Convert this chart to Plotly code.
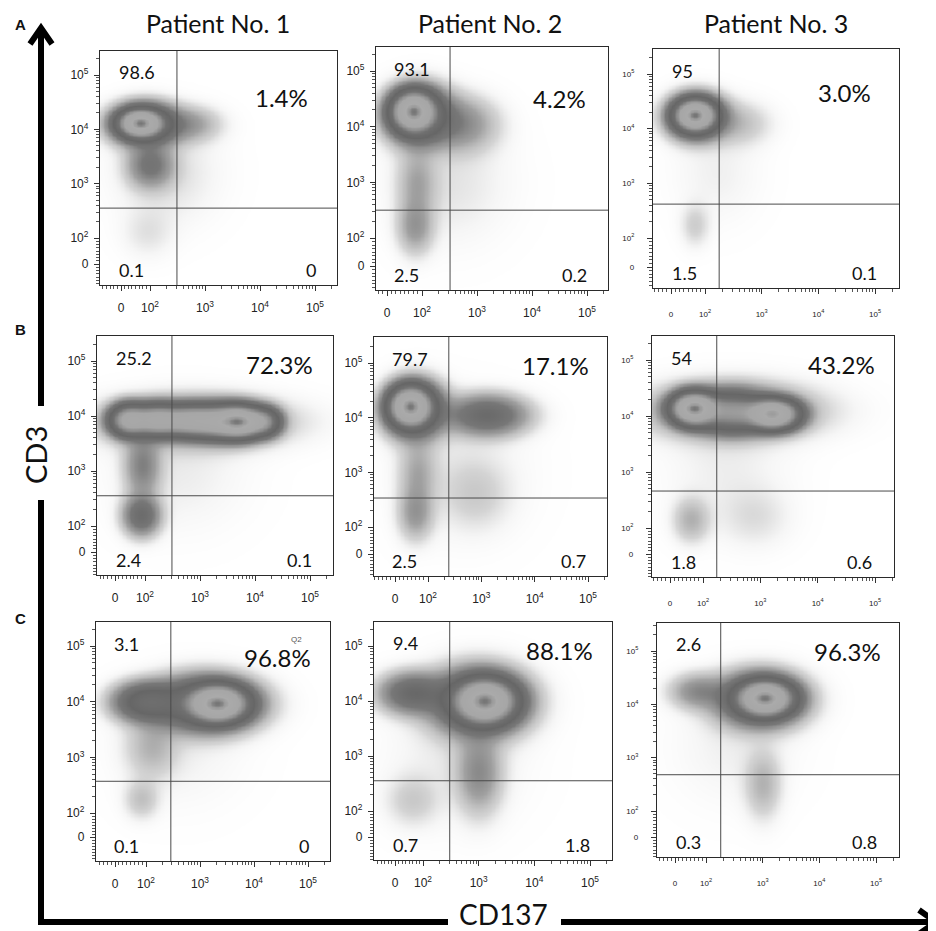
import numpy as np
import plotly.graph_objects as go

W, H = 936, 931

# ---------------- data ----------------
patients = ["Patient No. 1", "Patient No. 2", "Patient No. 3"]
row_labels = ["A", "B", "C"]
x_title = "CD137"
y_title = "CD3"
tick_decades = [2, 3, 4, 5]
tick_text = ["0", "10<sup>2</sup>", "10<sup>3</sup>", "10<sup>4</sup>", "10<sup>5</sup>"]

# quadrant percentages, panels ordered A1, A2, A3, B1, B2, B3, C1, C2, C3
q_upper_left = [98.6, 93.1, 95, 25.2, 79.7, 54, 3.1, 9.4, 2.6]
q_upper_right = [1.4, 4.2, 3.0, 72.3, 17.1, 43.2, 96.8, 88.1, 96.3]
q_lower_left = [0.1, 2.5, 1.5, 2.4, 2.5, 1.8, 0.1, 0.7, 0.3]
q_lower_right = [0, 0.2, 0.1, 0.1, 0.7, 0.6, 0, 1.8, 0.8]

# quadrant gates (log decades)
gate_cd137 = [2.49, 2.51, 2.25, 2.49, 2.39, 2.24, 2.46, 2.48, 2.26]
gate_cd3 = [2.55, 2.50, 2.62, 2.55, 2.53, 2.66, 2.57, 2.55, 2.68]

# cell populations:
# (CD137 centre, CD3 centre, CD137 spread, CD3 spread, relative density), log decades
pops_A1 = [(1.82, 4.12, 0.22, 0.14, 1.0), (1.90, 4.10, 0.35, 0.22, 0.25),
           (2.70, 4.10, 0.35, 0.20, 0.04), (2.00, 3.35, 0.25, 0.25, 0.08),
           (2.30, 3.20, 0.60, 0.60, 0.010), (1.95, 2.10, 0.30, 0.30, 0.008)]
pops_A2 = [(1.84, 4.28, 0.22, 0.20, 1.0), (1.95, 4.20, 0.35, 0.30, 0.20),
           (2.70, 4.05, 0.40, 0.30, 0.05), (1.90, 3.00, 0.22, 0.40, 0.03),
           (1.87, 2.20, 0.20, 0.30, 0.04), (2.50, 3.00, 0.70, 0.70, 0.008)]
pops_A3 = [(1.82, 4.25, 0.20, 0.16, 1.0), (1.85, 4.22, 0.30, 0.24, 0.20),
           (2.60, 4.10, 0.35, 0.25, 0.02), (1.82, 2.24, 0.16, 0.25, 0.014),
           (2.20, 3.20, 0.50, 0.60, 0.005)]
pops_B1 = [(1.70, 3.93, 0.20, 0.16, 0.80), (2.20, 3.93, 0.25, 0.16, 0.80),
           (2.80, 3.92, 0.30, 0.16, 0.80), (3.40, 3.90, 0.30, 0.17, 0.85),
           (3.75, 3.90, 0.22, 0.16, 1.0), (4.15, 3.90, 0.18, 0.15, 0.50),
           (2.90, 3.90, 1.00, 0.28, 0.08), (1.95, 3.10, 0.20, 0.35, 0.08),
           (1.93, 2.20, 0.20, 0.22, 0.15), (2.60, 3.00, 0.80, 0.70, 0.008)]
pops_B2 = [(1.66, 4.21, 0.22, 0.20, 1.0), (1.75, 4.15, 0.33, 0.30, 0.20),
           (3.10, 4.05, 0.45, 0.22, 0.12), (1.80, 3.00, 0.22, 0.40, 0.03),
           (1.76, 2.25, 0.20, 0.30, 0.04), (2.90, 2.60, 0.40, 0.40, 0.012),
           (2.60, 3.00, 0.80, 0.80, 0.006)]
pops_B3 = [(1.83, 4.14, 0.22, 0.16, 1.0), (3.22, 4.04, 0.25, 0.15, 0.90),
           (2.50, 4.08, 0.35, 0.20, 0.35), (2.50, 4.10, 0.90, 0.30, 0.06),
           (1.79, 2.15, 0.20, 0.25, 0.025), (2.90, 2.20, 0.40, 0.35, 0.008),
           (2.40, 3.10, 0.70, 0.70, 0.005)]
pops_C1 = [(3.33, 3.97, 0.30, 0.18, 1.0), (3.10, 3.97, 0.55, 0.28, 0.25),
           (2.00, 4.00, 0.35, 0.20, 0.20), (2.10, 3.20, 0.30, 0.35, 0.025),
           (1.91, 2.25, 0.20, 0.22, 0.02), (2.60, 3.20, 0.80, 0.70, 0.005)]
pops_C2 = [(3.11, 4.00, 0.30, 0.22, 1.0), (3.00, 4.00, 0.50, 0.35, 0.20),
           (1.80, 4.15, 0.35, 0.22, 0.12), (3.00, 2.70, 0.25, 0.45, 0.05),
           (1.80, 2.20, 0.30, 0.30, 0.015), (2.60, 3.00, 0.80, 0.80, 0.006)]
pops_C3 = [(3.04, 4.12, 0.27, 0.18, 1.0), (2.95, 4.10, 0.45, 0.30, 0.18),
           (1.85, 4.25, 0.30, 0.20, 0.05), (3.00, 2.50, 0.20, 0.40, 0.025),
           (2.50, 3.20, 0.70, 0.70, 0.005)]
populations = [pops_A1, pops_A2, pops_A3, pops_B1, pops_B2, pops_B3, pops_C1, pops_C2, pops_C3]

# ---------------- layout (pixels) ----------------
box_px = [(92, 329, 43, 277), (368, 600, 39, 282), (645, 891, 41, 280),
          (89, 325, 328, 567), (366, 599, 329, 568), (644, 886, 328, 569),
          (88, 322, 614, 853), (366, 604, 614, 852), (649, 891, 615, 849)]
xtick_px = [(113, 142, 307), (379, 414, 579), (663, 697, 867),
            (107, 137, 302), (387, 420, 580), (662, 695, 867),
            (107, 138, 300), (387, 415, 582), (667, 698, 868)]
ytick_px = [(256, 230, 67), (258, 230, 63), (259, 230, 66),
            (544, 518, 353), (546, 519, 355), (546, 520, 352),
            (829, 805, 638), (829, 803, 638), (829, 803, 643)]
ur_pos = [(0.886, 0.80), (0.914, 0.79), (0.894, 0.816),
          (0.924, 0.88), (0.930, 0.88), (0.930, 0.88),
          (0.927, 0.85), (0.929, 0.88), (0.934, 0.88)]

colorscale = [[0.0, "#ffffff"], [0.003, "#f6f6f6"], [0.01, "#d4d4d4"],
              [0.03, "#a0a0a0"], [0.06, "#777777"], [0.12, "#666666"],
              [0.22, "#707070"], [0.32, "#8e8e8e"], [0.45, "#a6a6a6"],
              [0.80, "#aaaaaa"], [0.92, "#999999"], [1.0, "#767676"]]

FONT = "Lato"
TICKFONT = "Liberation Sans"

fig = go.Figure()
shapes = []
annotations = []


def px_x(p):
    return p / W


def px_y(p):
    return 1 - p / H


def minor_vals(lo, hi, zero):
    vals = []
    for n in (2, 3, 4, 5):
        for k in range(2, 10):
            v = n + np.log10(k)
            if lo < v < hi:
                vals.append(float(v))
    step = (2 - zero) / 8
    v = 2 - step
    while v > lo:
        if abs(v - zero) > 1e-6:
            vals.append(float(v))
        v -= step
    return vals


for i in range(9):
    col = i % 3
    n = "" if i == 0 else str(i + 1)
    L, R, T, B = box_px[i]
    x0p, x2p, x5p = xtick_px[i]
    dx = (x5p - x2p) / 3
    xr = [2 + (L - x2p) / dx, 5 + (R - x5p) / dx]
    xzero = 2 + (x0p - x2p) / dx
    y0p, y2p, y5p = ytick_px[i]
    dy = (y2p - y5p) / 3
    yr = [2 - (B - y2p) / dy, 5 + (y5p - T) / dy]
    yzero = 2 - (y0p - y2p) / dy

    gx = np.linspace(xr[0], xr[1], 180)
    gy = np.linspace(yr[0], yr[1], 180)
    X, Y = np.meshgrid(gx, gy)
    Z = np.zeros_like(X)
    for cx, cy, sx, sy, w in populations[i]:
        Z += w * np.exp(-0.5 * (((X - cx) / sx) ** 2 + ((Y - cy) / sy) ** 2))
    Z = Z / Z.max()

    fig.add_trace(go.Heatmap(x=gx, y=gy, z=Z, colorscale=colorscale, zmin=0, zmax=1,
                             zsmooth="best", showscale=False, hoverinfo="skip",
                             xaxis="x" + n, yaxis="y" + n))

    small = col == 2
    tf = dict(family=TICKFONT, size=8 if small else 12, color="#222")
    common = dict(showline=True, mirror=True, linecolor="#2a2a2a", linewidth=1.3,
                  ticks="outside", ticklen=5, tickwidth=1, tickcolor="#333",
                  showgrid=False, zeroline=False, tickmode="array",
                  ticktext=tick_text, tickfont=tf, fixedrange=True)
    fig.layout["xaxis" + n] = dict(
        common, domain=[px_x(L), px_x(R)], range=xr, anchor="y" + n,
        tickvals=[xzero] + tick_decades, ticklabelstandoff=13 if small else 6,
        minor=dict(tickmode="array", tickvals=minor_vals(xr[0], xr[1], xzero),
                   ticklen=3, tickwidth=0.8, tickcolor="#555"))
    fig.layout["yaxis" + n] = dict(
        common, domain=[px_y(B), px_y(T)], range=yr, anchor="x" + n,
        tickvals=[yzero] + tick_decades, ticklabelstandoff=11 if small else 3,
        minor=dict(tickmode="array", tickvals=minor_vals(yr[0], yr[1], yzero),
                   ticklen=3, tickwidth=0.8, tickcolor="#555"))

    # quadrant gates
    shapes.append(dict(type="line", xref="x" + n, yref="y" + n + " domain",
                       x0=gate_cd137[i], x1=gate_cd137[i], y0=0, y1=1,
                       line=dict(color="#4a4a4a", width=1), layer="above"))
    shapes.append(dict(type="line", xref="x" + n + " domain", yref="y" + n,
                       x0=0, x1=1, y0=gate_cd3[i], y1=gate_cd3[i],
                       line=dict(color="#4a4a4a", width=1), layer="above"))

    xd = "x" + n + " domain"
    yd = "y" + n + " domain"
    qf = dict(family=FONT, size=18, color="#111")
    annotations += [
        dict(text=f"{q_upper_left[i]:g}", xref=xd, yref=yd, x=0.07, y=0.91,
             xanchor="left", yanchor="middle", showarrow=False, font=qf),
        dict(text=f"{q_upper_right[i]:.1f}%", xref=xd, yref=yd, x=ur_pos[i][0], y=ur_pos[i][1],
             xanchor="right", yanchor="middle", showarrow=False,
             font=dict(family=FONT, size=24, color="#111")),
        dict(text=f"{q_lower_left[i]:g}", xref=xd, yref=yd, x=0.07, y=0.062,
             xanchor="left", yanchor="middle", showarrow=False, font=qf),
        dict(text=f"{q_lower_right[i]:g}", xref=xd, yref=yd, x=0.918, y=0.062,
             xanchor="right", yanchor="middle", showarrow=False, font=qf),
    ]
    if i == 6:
        annotations.append(dict(text="Q2", xref=xd, yref=yd, x=0.89, y=0.955,
                                showarrow=False, font=dict(family=TICKFONT, size=8, color="#555")))

# column titles
for c, (name, cx) in enumerate(zip(patients, [210, 482, 768])):
    annotations.append(dict(text=name, xref="paper", yref="paper", x=px_x(cx), y=px_y(15),
                            xanchor="center", yanchor="middle", showarrow=False,
                            font=dict(family=FONT, size=25, color="#111")))
# row letters
for lab, py in zip(row_labels, [16, 321, 610]):
    annotations.append(dict(text=f"<b>{lab}</b>", xref="paper", yref="paper", x=px_x(12), y=px_y(py),
                            xanchor="center", yanchor="middle", showarrow=False,
                            font=dict(family=TICKFONT, size=15, color="#111")))
# axis titles on the big arrows
annotations.append(dict(text=y_title, xref="paper", yref="paper", x=px_x(27), y=px_y(447),
                        textangle=-90, xanchor="center", yanchor="middle", showarrow=False,
                        font=dict(family=FONT, size=29, color="#111")))
annotations.append(dict(text=x_title, xref="paper", yref="paper", x=px_x(495), y=px_y(906),
                        xanchor="center", yanchor="middle", showarrow=False,
                        font=dict(family=FONT, size=28, color="#111")))

# big arrows
arrow_line = dict(color="#000", width=6)
for (xa, ya, xb, yb) in [(33, 914, 33, 492), (33, 398, 33, 21),
                         (30, 914, 440, 914), (553, 914, 927, 914)]:
    shapes.append(dict(type="line", xref="paper", yref="paper",
                       x0=px_x(xa), y0=px_y(ya), x1=px_x(xb), y1=px_y(yb), line=arrow_line))


def path(pts):
    return "M " + " L ".join(f"{px_x(a):.5f},{px_y(b):.5f}" for a, b in pts)


shapes.append(dict(type="path", xref="paper", yref="paper",
                   path=path([(22, 36), (33, 20), (44, 36)]), line=arrow_line))
shapes.append(dict(type="path", xref="paper", yref="paper",
                   path=path([(911, 902), (928, 914), (911, 926)]), line=arrow_line))

fig.update_layout(width=W, height=H, margin=dict(l=0, r=0, t=0, b=0),
                  paper_bgcolor="white", plot_bgcolor="white", showlegend=False,
                  shapes=shapes, annotations=annotations)

fig.write_html("out.html")
